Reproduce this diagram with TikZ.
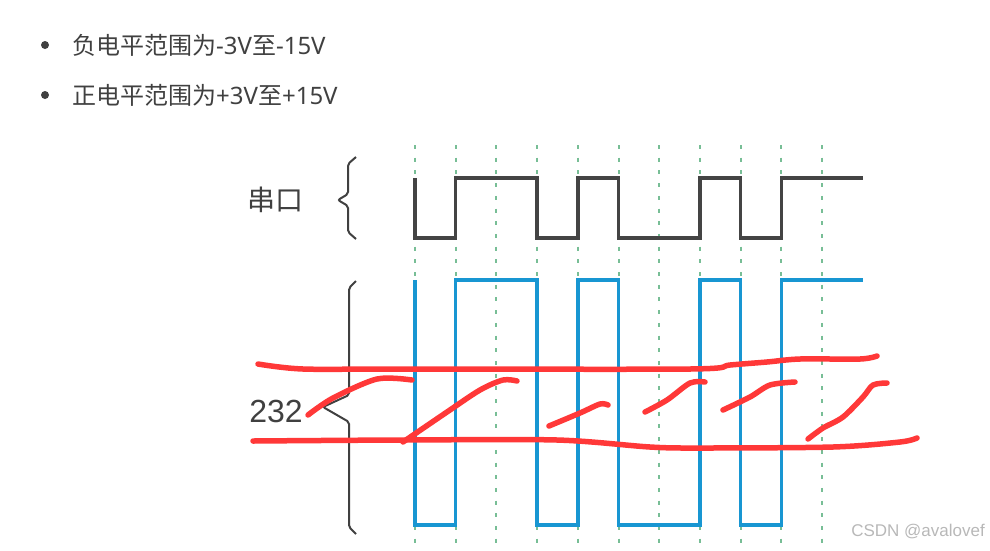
\documentclass[tikz,border=0pt]{standalone}
\usepackage{fontspec}
\usepackage{tikz}
\setmainfont{Noto Sans}
\newfontfamily\cjk{Noto Sans CJK SC}
\newfontfamily\arialfont{Liberation Sans}
\definecolor{textgray}{RGB}{64, 64, 64}
\definecolor{wavegray}{RGB}{68, 68, 68}
\definecolor{lineblue}{RGB}{24, 150, 210}
\definecolor{gridgreen}{RGB}{120, 190, 150}
\definecolor{penred}{RGB}{255, 56, 56}

\begin{document}
\begin{tikzpicture}[x=1pt, y=-1pt,
  bullet/.style={circle, fill=textgray, inner sep=0pt, minimum size=8pt},
  item/.style={anchor=west, inner sep=0pt, text=textgray, font=\fontsize{24}{24}\selectfont},
  lbl/.style={inner sep=0pt, text=textgray},
  grid/.style={gridgreen, line width=2pt, dash pattern=on 4pt off 8.7pt},
  wave/.style={line width=3.5pt, line join=miter},
  brc/.style={textgray, line width=2pt, rounded corners=2pt},
  pen/.style={penred, line width=5.5pt, line cap=round, line join=round}]
  \useasboundingbox (0,0) rectangle (990,550);

  % bullet list
  \node[bullet] (b1) at (45,45) {};
  \node[bullet] (b2) at (45,95) {};
  \node[item] (neg) at (72,45) {{\cjk 负电平范围为}-3V{\cjk 至}-15V};
  \node[item] (pos) at (72,95) {{\cjk 正电平范围为}+3V{\cjk 至}+15V};

  % bit grid
  \foreach \i in {0,...,10}
    \draw[grid] (415+40.7*\i,145) -- (415+40.7*\i,550);

  % waveforms, one unit = one bit
  \begin{scope}[shift={(415,0)}, x=40.7pt]
    \draw[wave, wavegray] (0,178) -- (0,238) -| (1,178) -| (3,238) -| (4,178) -| (5,238)
      -| (7,178) -| (8,238) -| (9,178) -- (11,178);
    \draw[wave, lineblue] (0,280) -- (0,525) -| (1,280) -| (3,525) -| (4,280) -| (5,525)
      -| (7,280) -| (8,525) -| (9,280) -- (11,280);
  \end{scope}

  % labels and braces
  \node[lbl, font=\cjk\fontsize{28}{28}\selectfont] (uart) at (275,200) {串口};
  \node[lbl, font=\arialfont\fontsize{32}{32}\selectfont] (rs) at (276,411) {232};
  \draw[brc] (356,157) -- (348,164) -- (348,194) -- (338,200) -- (348,206) -- (348,232) -- (356,239);
  \draw[brc] (356,281) -- (349,288) -- (349,395) -- (323,407) -- (349,422) -- (349,527) -- (356,534);

  % watermark
  \node[anchor=east, inner sep=0pt, text=black!28, font=\arialfont\fontsize{17}{17}\selectfont] (mark) at (985,532) {CSDN @avalovef};

  % red pen marks
  \draw[pen] plot[smooth, tension=0.5] coordinates {(258,364) (303,369) (400,369) (690,369) (730,365) (767,362) (800,359) (860,359) (877,356)};
  \draw[pen] plot[smooth, tension=0.5] coordinates {(253,441) (403,440) (557,440) (650,447) (700,448) (833,447) (900,442) (917,438)};
  \draw[pen] plot[smooth, tension=0.5] coordinates {(308,415) (333,398) (377,379) (412,380)};
  \draw[pen] plot[smooth, tension=0.5] coordinates {(403,442) (447,412) (480,390) (503,380) (517,381)};
  \draw[pen] plot[smooth, tension=0.5] coordinates {(549,426) (580,413) (600,404) (608,405)};
  \draw[pen] plot[smooth, tension=0.5] coordinates {(645,412) (667,400) (690,383) (705,382)};
  \draw[pen] plot[smooth, tension=0.5] coordinates {(723,410) (750,397) (770,385) (795,382)};
  \draw[pen] plot[smooth, tension=0.5] coordinates {(808,439) (823,428) (843,417) (863,397) (873,385) (887,383)};
\end{tikzpicture}
\end{document}
